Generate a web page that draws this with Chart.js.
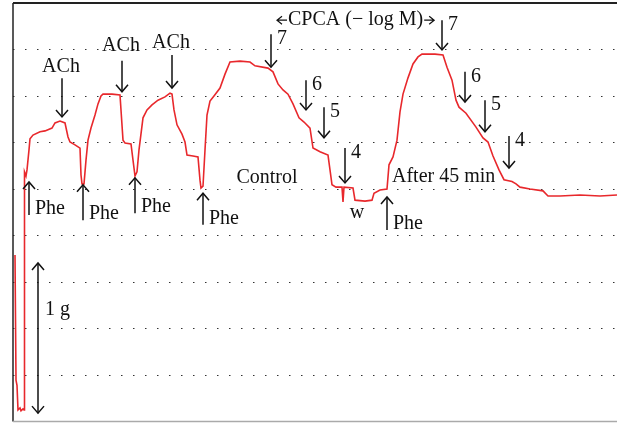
<!doctype html>
<html>
    <head>
        <meta charset="utf-8">
        <script src="https://cdn.jsdelivr.net/npm/chart.js"></script>
        <style>
            body {
                margin: 0px;
                background-color: white;
            }
        </style>
    </head>
    <body>
        <canvas id="myChart" width="617" height="423"></canvas>

        <script>
        // time (arbitrary units) and tension (grid units)
        const times = [2, 3, 4, 5, 7, 8, 10, 11, 11.5, 13, 14, 16, 17, 20, 27, 32, 39, 42, 47, 52, 55, 57, 62, 67, 68, 69, 71,
            73, 75, 78, 82, 85, 88, 90, 99, 107, 108, 110, 112, 118, 120, 122, 124, 126, 130, 134, 139, 145, 152, 157, 159,
            161, 164, 169, 172, 174, 180, 185, 187, 188, 190, 192, 194, 197, 201, 207, 212, 217, 227, 237, 242, 255, 260,
            265, 270, 275, 280, 286, 291, 297, 300, 307, 315, 317, 319, 323, 329, 330, 331, 340, 342, 352, 359, 361, 367,
            374, 376, 380, 384, 387, 390, 395, 400, 405, 409, 422, 430, 434, 439, 443, 446, 453, 463, 470, 475, 480, 486,
            491, 499, 503, 507, 517, 530, 535, 547, 567, 587, 604];
        const tension = [3.58, 0.89, 0.78, 0.25, 0.29, 0.23, 0.27, 0.25, 5.37, 5.28, 5.41, 5.84, 6.08, 6.16, 6.23, 6.25, 6.31,
            6.42, 6.46, 6.42, 6.12, 6.01, 5.95, 5.88, 5.30, 5.11, 5.11,
            5.62, 6.05, 6.31, 6.59, 6.83, 7.00, 7.04, 7.04, 7.02, 6.70, 6.05, 5.99, 5.97, 5.62, 5.28, 5.37, 5.84, 6.53, 6.70,
            6.81, 6.91, 6.98, 7.06, 7.04,
            6.70, 6.38, 6.18, 6.01, 5.73, 5.71, 5.69, 5.19, 5.02, 5.06, 5.84, 6.59, 6.89, 7.00, 7.17, 7.47, 7.73, 7.75, 7.73,
            7.65, 7.60, 7.52,
            7.26, 7.13, 7.04, 6.83, 6.53, 6.44, 6.31, 5.88, 5.80, 5.73, 5.41, 5.09, 5.04, 5.04, 4.72, 5.04, 5.02, 4.76, 4.74,
            4.76, 4.91, 4.98,
            5.00, 5.52, 5.69, 6.05, 6.66, 7.04, 7.39, 7.69, 7.84, 7.90, 7.90, 7.88, 7.62, 7.34, 6.91, 6.76, 6.63, 6.33, 6.10,
            6.01, 5.71, 5.41,
            5.20, 5.16, 5.11, 5.04, 5.00, 4.96, 4.85, 4.85, 4.87, 4.85, 4.87];

        // labels: [text, time, tension, align]
        const textLabels = [
            ['ACh', 48, 7.63, 'center'], ['ACh', 108, 8.07, 'center'], ['ACh', 158, 8.14, 'center'],
            ['Control', 254, 5.24, 'center'], ['w', 344, 4.50, 'center'], ['After 45 min', 379, 5.26, 'left'],
            ['1 g', 32, 2.40, 'left']
        ];
        // down arrows (drug added): [time, from, to, dose]
        const downArrows = [
            [49, 7.38, 6.55, ''], [109, 7.76, 7.09, ''], [159, 7.88, 7.17, ''],
            [258, 8.33, 7.62, '7'], [293, 7.34, 6.70, '6'], [311, 6.76, 6.10, '5'], [332, 5.88, 5.13, '4'],
            [429, 8.63, 7.99, '7'], [452, 7.52, 6.87, '6'], [472, 6.91, 6.23, '5'], [496, 6.14, 5.45, '4']
        ];
        // Phe up arrows: [time, from, to]
        const pheArrows = [[16, 4.44, 5.15], [70, 4.33, 5.09], [122, 4.48, 5.24], [190, 4.23, 4.91], [374, 4.12, 4.83]];

        const font = '20px "Liberation Serif", "DejaVu Serif", serif';

        function arrowHead(ctx, x, y, dir) {
            ctx.beginPath();
            ctx.moveTo(x - 6, y - dir * 7);
            ctx.lineTo(x, y);
            ctx.lineTo(x + 6, y - dir * 7);
            ctx.stroke();
        }

        const notes = {
            id: 'notes',
            afterDraw(chart) {
                const ctx = chart.ctx;
                const xs = chart.scales.x, ys = chart.scales.y;
                const area = chart.chartArea;
                ctx.save();
                // frame
                ctx.strokeStyle = '#222';
                ctx.lineWidth = 2;
                ctx.beginPath();
                ctx.moveTo(area.left, area.top);
                ctx.lineTo(area.right, area.top);
                ctx.stroke();
                ctx.lineWidth = 1.5;
                ctx.beginPath();
                ctx.moveTo(area.left, area.top);
                ctx.lineTo(area.left, area.bottom);
                ctx.stroke();
                ctx.strokeStyle = '#aaa';
                ctx.beginPath();
                ctx.moveTo(area.left, area.bottom);
                ctx.lineTo(area.right, area.bottom);
                ctx.stroke();

                ctx.fillStyle = '#111';
                ctx.strokeStyle = '#111';
                ctx.lineWidth = 1.5;
                ctx.font = font;
                ctx.textBaseline = 'middle';

                textLabels.forEach(l => {
                    ctx.textAlign = l[3];
                    ctx.fillText(l[0], xs.getPixelForValue(l[1]), ys.getPixelForValue(l[2]));
                });

                ctx.textAlign = 'left';
                downArrows.forEach(a => {
                    const x = xs.getPixelForValue(a[0]);
                    const y1 = ys.getPixelForValue(a[1]), y2 = ys.getPixelForValue(a[2]);
                    ctx.beginPath();
                    ctx.moveTo(x, y1);
                    ctx.lineTo(x, y2);
                    ctx.stroke();
                    arrowHead(ctx, x, y2, 1);
                    if (a[3]) ctx.fillText(a[3], x + 6, y1 + 5);
                });

                pheArrows.forEach(a => {
                    const x = xs.getPixelForValue(a[0]);
                    const y1 = ys.getPixelForValue(a[1]), y2 = ys.getPixelForValue(a[2]);
                    ctx.beginPath();
                    ctx.moveTo(x, y1);
                    ctx.lineTo(x, y2);
                    ctx.stroke();
                    arrowHead(ctx, x, y2, -1);
                    ctx.fillText('Phe', x + 6, y1 - 6);
                });

                // 1 g scale bar
                const bx = xs.getPixelForValue(25);
                const b1 = ys.getPixelForValue(3.41), b2 = ys.getPixelForValue(0.18);
                ctx.beginPath();
                ctx.moveTo(bx, b1);
                ctx.lineTo(bx, b2);
                ctx.stroke();
                arrowHead(ctx, bx, b1, -1);
                arrowHead(ctx, bx, b2, 1);

                // CPCA dose label
                const cy = ys.getPixelForValue(8.63);
                const cx = xs.getPixelForValue(275);
                const label = 'CPCA (\u2212 log M)';
                const w = ctx.measureText(label).width;
                ctx.fillText(label, cx, cy);
                ctx.lineWidth = 1.2;
                ctx.beginPath();
                ctx.moveTo(cx - 1, cy);
                ctx.lineTo(cx - 11, cy);
                ctx.moveTo(cx - 6, cy - 4);
                ctx.lineTo(cx - 11, cy);
                ctx.lineTo(cx - 6, cy + 4);
                ctx.moveTo(cx + w + 1, cy);
                ctx.lineTo(cx + w + 11, cy);
                ctx.moveTo(cx + w + 6, cy - 4);
                ctx.lineTo(cx + w + 11, cy);
                ctx.lineTo(cx + w + 6, cy + 4);
                ctx.stroke();
                ctx.restore();
            }
        };

        const points = times.map((t, i) => ({x: t, y: tension[i]}));

        const myChart = new Chart(document.getElementById('myChart'), {
            type: 'line',
            data: {
                datasets: [{
                    data: points,
                    borderColor: '#e8282c',
                    borderWidth: 1.6,
                    pointRadius: 0,
                    tension: 0,
                    fill: false
                }]
            },
            options: {
                responsive: false,
                animation: false,
                layout: { padding: { left: 13, top: 3, right: 0, bottom: 1.5 } },
                plugins: { legend: { display: false }, tooltip: { enabled: false } },
                scales: {
                    x: {
                        type: 'linear',
                        display: false,
                        min: 0,
                        max: 604
                    },
                    y: {
                        min: 0,
                        max: 9,
                        ticks: { display: false, stepSize: 1 },
                        border: { display: false, dash: [1.5, 10.5] },
                        grid: {
                            color: '#333',
                            lineWidth: 1,
                            drawTicks: false
                        }
                    }
                }
            },
            plugins: [notes]
        });
        </script>
    </body>
</html>
